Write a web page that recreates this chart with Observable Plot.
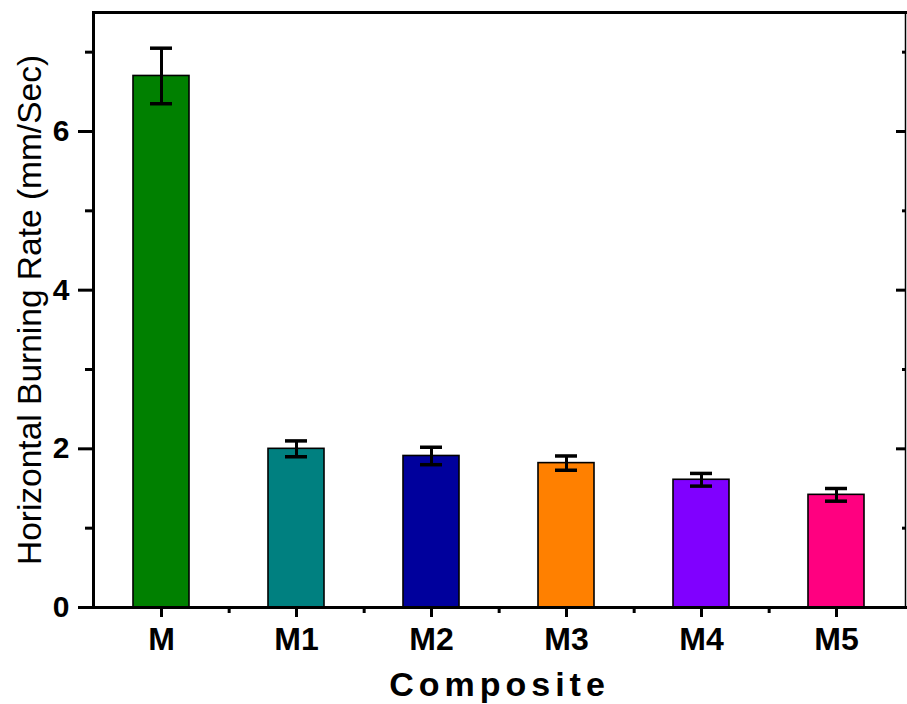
<!DOCTYPE html>
<html>
<head>
<meta charset="utf-8">
<script src="https://cdn.jsdelivr.net/npm/d3@7"></script>
<script src="https://cdn.jsdelivr.net/npm/@observablehq/plot@0.6"></script>
<style>
  html, body { margin: 0; padding: 0; background: #fff; }
  #chart svg { display: block; }
</style>
</head>
<body>
<div id="chart"></div>
<script>
const categories = ["M", "M1", "M2", "M3", "M4", "M5"];
const rates = [6.70, 2.00, 1.91, 1.82, 1.61, 1.42];
const errors = [0.35, 0.10, 0.11, 0.09, 0.08, 0.08];
const colors = ["#008000", "#008080", "#00009C", "#FF8000", "#8000FF", "#FF0080"];
const majorTicks = [0, 2, 4, 6];
const minorTicks = [1, 3, 5, 7];

const data = categories.map((c, i) => ({cat: c, v: rates[i], e: errors[i], color: colors[i]}));

const W = 907, H = 704;
const mL = 93, mR = 2, mT = 12, mB = 97;
const step = (W - mL - mR) / categories.length;

const font = "Arial, 'Liberation Sans', sans-serif";

const chart = Plot.plot({
  width: W,
  height: H,
  marginLeft: mL,
  marginRight: mR,
  marginTop: mT,
  marginBottom: mB,
  style: {fontFamily: font, color: "#000", background: "#fff", overflow: "visible"},
  x: {domain: categories, paddingInner: 0.585, paddingOuter: 0.2925},
  y: {domain: [0, 7.5]},
  marks: [
    Plot.barY(data, {x: "cat", y: "v", fill: "color", stroke: "#000", strokeWidth: 1.6}),
    Plot.ruleX(data, {x: "cat", y1: d => d.v - d.e, y2: d => d.v + d.e, stroke: "#000", strokeWidth: 3}),
    Plot.tickY(data, {x: "cat", y: d => d.v + d.e, stroke: "#000", strokeWidth: 3.5, inset: 17}),
    Plot.tickY(data, {x: "cat", y: d => d.v - d.e, stroke: "#000", strokeWidth: 3.5, inset: 17}),
    // frame
    Plot.frame({anchor: "left", stroke: "#000", strokeWidth: 3}),
    Plot.frame({anchor: "top", stroke: "#000", strokeWidth: 3}),
    Plot.frame({anchor: "bottom", stroke: "#000", strokeWidth: 3}),
    Plot.frame({anchor: "right", stroke: "#000", strokeWidth: 1.5}),
    // left y axis
    Plot.axisY({ticks: majorTicks, tickSize: 15, tickPadding: 9, strokeWidth: 3,
      fontSize: 30, fontWeight: "bold", label: null}),
    Plot.axisY({ticks: minorTicks, tickSize: 8, strokeWidth: 3, text: null, label: null}),
    Plot.axisY({ticks: [], label: "Horizontal Burning Rate (mm/Sec)", labelAnchor: "center",
      labelArrow: "none", labelOffset: 76, fontSize: 33.5}),
    // right y axis (inward ticks)
    Plot.axisY({anchor: "right", ticks: [2, 4, 6], tickSize: -10, strokeWidth: 3, text: null, label: null}),
    Plot.axisY({anchor: "right", ticks: minorTicks, tickSize: -4, strokeWidth: 3, text: null, label: null}),
    // bottom x axis
    Plot.axisX({tickSize: 10, tickPadding: 10, strokeWidth: 3, fontSize: 32, fontWeight: "bold", label: null}),
    Plot.axisX({ticks: categories.slice(0, -1), dx: step / 2, tickSize: 6, strokeWidth: 3, text: null, label: null}),
    Plot.axisX({ticks: [], label: "Composite", labelAnchor: "center", labelArrow: "none",
      labelOffset: 88, fontSize: 34, fontWeight: "bold", ariaLabel: "composite-label"})
  ]
});

d3.select(chart).selectAll("text")
  .filter(function() { return this.textContent === "Composite"; })
  .attr("letter-spacing", "5px");

document.getElementById("chart").appendChild(chart);
</script>
</body>
</html>
